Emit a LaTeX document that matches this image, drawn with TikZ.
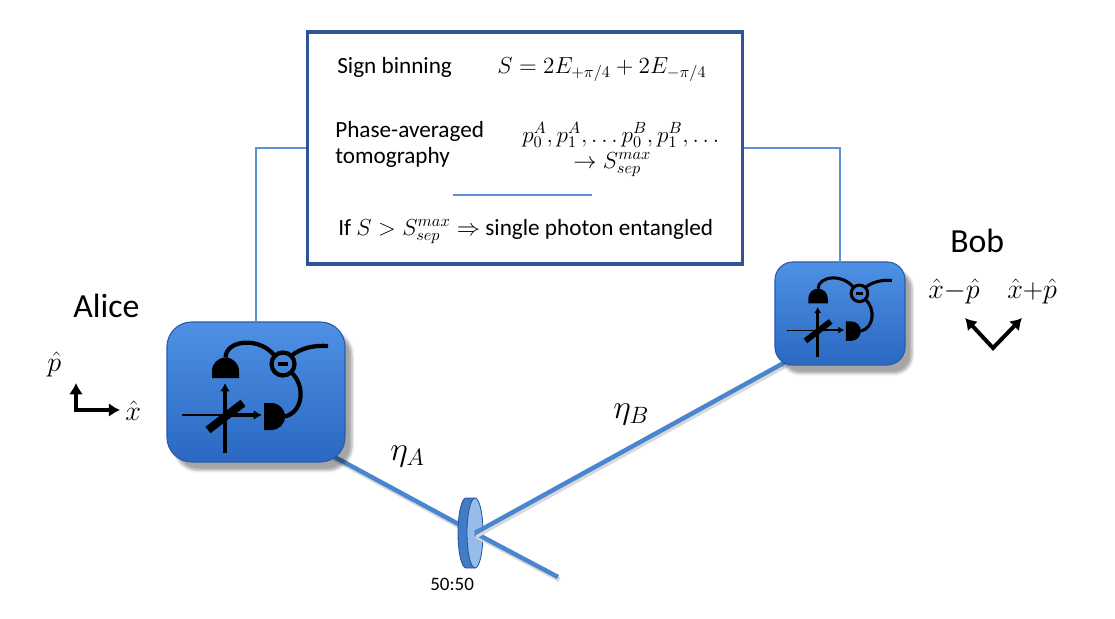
\RequirePackage{fix-cm}
\documentclass[tikz,border=0pt]{standalone}
\usepackage{fontspec}
\setmainfont{Carlito}
\usepackage{tikz}
\usetikzlibrary{arrows.meta,backgrounds,shadows.blur}

\definecolor{infoedge}{RGB}{47,84,150}
\definecolor{linkblue}{RGB}{90,145,212}
\definecolor{beamblue}{RGB}{74,134,208}
\definecolor{boxtop}{RGB}{78,145,228}
\definecolor{boxbottom}{RGB}{42,104,194}
\definecolor{boxedge}{RGB}{42,92,170}
\definecolor{bsbody}{RGB}{66,124,200}
\definecolor{bsface}{RGB}{150,188,232}
\definecolor{bsedge}{RGB}{38,84,150}

\begin{document}
\begin{tikzpicture}[x=0.025cm,y=-0.025cm,
    infobox/.style={draw=infoedge, line width=2.2pt, fill=white},
    detbox/.style={draw=boxedge, line width=0.8pt, top color=boxtop, bottom color=boxbottom,
      blur shadow={shadow xshift=5pt, shadow yshift=-6pt, shadow opacity=35}},
    link/.style={draw=linkblue, line width=1.2pt},
    beam/.style={draw=beamblue, line width=3.2pt,
      preaction={draw=black!15, line width=3.2pt, transform canvas={shift={(1pt,-2pt)}}}},
    lbl/.style={inner sep=0pt, anchor=base west},
    infotext/.style={lbl, font=\fontsize{16.5}{19}\selectfont},
    who/.style={lbl, font=\fontsize{24}{28}\selectfont},
    quad/.style={lbl, font=\fontsize{20}{24}\selectfont},
    axis/.style={line width=2.8pt, line join=miter}]
    \useasboundingbox (0,0) rectangle (1115,618);

    % boxes
    \node[infobox, minimum width=10.85cm, minimum height=5.8cm] (info) at (525,148) {};
    \node[detbox, minimum width=4.45cm, minimum height=3.5cm, rounded corners=0.62cm] (alice) at (256,392) {};
    \node[detbox, minimum width=3.25cm, minimum height=2.575cm, rounded corners=0.45cm] (bob) at (840,313.5) {};

    % beams and splitter
    \coordinate (aout) at (318,448);
    \coordinate (bs) at (475,533);
    \coordinate (bsend) at (558,577);
    \coordinate (bout) at (800,354);
    \begin{scope}[on background layer]
        \draw[link] (alice.north) |- (info.west);
        \draw[link] (info.east) -| (bob.north);
        \draw[beam] (aout) -- (bs);
        \fill[bsbody] (466,498) -- (475,498) -- (475,568) -- (466,568)
            arc[start angle=90, end angle=270, x radius=8, y radius=35] -- cycle;
        \draw[bsedge, line width=0.6pt] (475,498) -- (466,498)
            arc[start angle=270, end angle=90, x radius=8, y radius=35] -- (475,568);
        \filldraw[fill=bsface, draw=bsedge, line width=0.6pt] (475,533) ellipse[x radius=8, y radius=35];
        \draw[beam] (bs) -- (bsend);
        \draw[beam] (bs) -- (bout);
    \end{scope}

    % homodyne detectors
    \foreach \who/\sc/\al/\aw in {alice/1/6pt/7pt, bob/0.72/4.3pt/5pt}{
        \begin{scope}[shift={(\who)}, scale=\sc]
            \draw[line width=\sc*5.8pt] (-48,38) -- (-13,11);
            \draw[line width=\sc*1.1pt] (-74,23) -- (-31,23);
            \draw[line width=\sc*2.6pt, -{Latex[length=\al,width=\aw]}] (-31,23) -- (6,23);
            \draw[line width=\sc*3pt, -{Latex[length=\al,width=\aw]}] (-31,61) -- (-31,-9);
            \fill (-44,-14) -- (-44,-21) arc[start angle=180, end angle=360, radius=13.5] -- (-17,-14) -- cycle;
            \fill (8,11) -- (15.5,11) arc[start angle=270, end angle=450, radius=13.5] -- (8,38) -- cycle;
            \draw[line width=\sc*3pt] (27,-28) circle[radius=11.5];
            \draw[line width=\sc*3pt] (22,-28) -- (32,-28);
            \draw[line width=\sc*3pt] (-30.5,-34.5) .. controls (-30,-52) and (3,-56) .. (18.9,-36.1);
            \draw[line width=\sc*3pt] (35.1,-36.1) .. controls (45,-44) and (58,-47) .. (72,-46);
            \draw[line width=\sc*3pt] (35.1,-19.9) .. controls (50,-6) and (47,20) .. (29,24.5);
        \end{scope}
    }

    % box texts
    \node[infotext] (signlbl) at (337,73) {Sign binning};
    \node[infotext] (signeq) at (497,73) {$S = 2E_{+\pi/4} + 2E_{-\pi/4}$};
    \node[infotext] (tomolbl) at (335,137) {Phase-averaged};
    \node[infotext] (tomolblb) at (335,163) {tomography};
    \node[infotext] (proba) at (522,142) {$p_0^A, p_1^A, \ldots p_0^B, p_1^B, \ldots$};
    \node[infotext] (smax) at (573,168) {$\rightarrow S_{sep}^{max}$};
    \draw[link] (453,195) -- (592,195);
    \node[infotext] (witness) at (338,235) {If $S > S_{sep}^{max} \Rightarrow$ single photon entangled};

    % labels
    \node[who] (alicelbl) at (73,317) {Alice};
    \node[who] (boblbl) at (950,252) {Bob};
    \node[who] (etaa) at (390,460) {$\eta_A$};
    \node[who] (etab) at (613,418) {$\eta_B$};
    \node[lbl, font=\fontsize{13.5}{16}\selectfont] (ratio) at (430,590) {50:50};

    % quadrature axes
    \node[quad] (plbl) at (47,371) {$\hat{p}$};
    \node[quad] (xlbl) at (125,420) {$\hat{x}$};
    \draw[axis, {Latex[length=8pt,width=10pt]}-{Latex[length=8pt,width=10pt]}] (76,383) -- (76,410) -- (120,410);
    \node[quad] (xmp) at (928,298) {$\hat{x}{-}\hat{p}$};
    \node[quad] (xpp) at (1007,298) {$\hat{x}{+}\hat{p}$};
    \draw[axis, {Latex[length=8pt,width=10pt]}-{Latex[length=8pt,width=10pt]}] (965,318) -- (993,348) -- (1022,318);
\end{tikzpicture}
\end{document}
